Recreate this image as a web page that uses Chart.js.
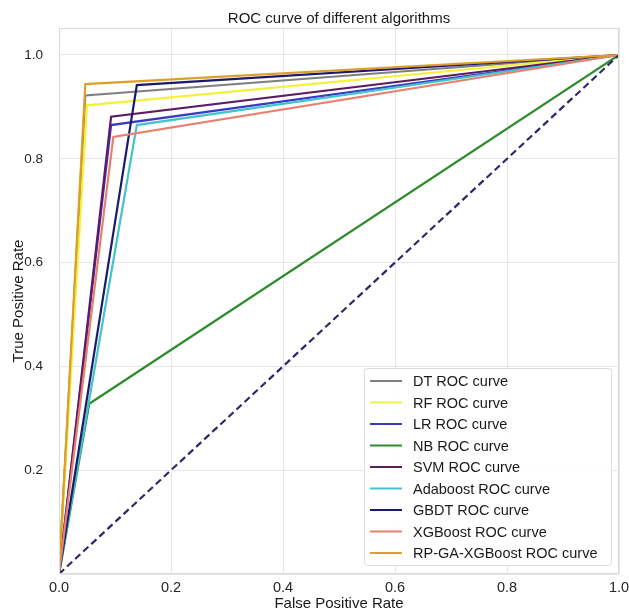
<!DOCTYPE html>
<html>
<head>
<meta charset="utf-8">
<script src="https://cdn.jsdelivr.net/npm/chart.js@4/dist/chart.umd.min.js"></script>
<style>
  html, body { margin: 0; padding: 0; background: #fff; }
  #wrap { width: 629px; height: 613px; }
</style>
</head>
<body>
<div id="wrap"><canvas id="myChart"></canvas></div>
<script>
// curvas ROC: cada una va (0,0) -> (fpr, tpr) -> (1,1)
const algoritmos = ['DT ROC curve', 'RF ROC curve', 'LR ROC curve', 'NB ROC curve', 'SVM ROC curve',
    'Adaboost ROC curve', 'GBDT ROC curve', 'XGBoost ROC curve', 'RP-GA-XGBoost ROC curve'];
const fprPunto = [0.047, 0.050, 0.093, 0.054, 0.093, 0.139, 0.139, 0.097, 0.047];
const tprPunto = [0.922, 0.903, 0.865, 0.328, 0.881, 0.865, 0.942, 0.842, 0.944];
const colores = ['#808080', '#f2f23c', '#3a3ac4', '#2e8b2e', '#5e1c62',
    '#44c4c8', '#1b1b6e', '#e8806e', '#dca028'];
const diagonal = [0, 1];
const xTicks = [0, 0.2, 0.4, 0.6, 0.8, 1.0];
const yTicks = [0, 0.2, 0.4, 0.6, 0.8, 1.0];

const fuente = '"Liberation Sans", Arial, sans-serif';

const datasets = algoritmos.map((nombre, i) => ({
    label: nombre,
    data: [{ x: 0, y: 0 }, { x: fprPunto[i], y: tprPunto[i] }, { x: 1, y: 1 }],
    borderColor: colores[i],
    borderWidth: 2.2,
    pointRadius: 0,
    tension: 0,
    order: algoritmos.length - i + 1
}));
datasets.push({
    label: 'diagonal',
    data: diagonal.map(v => ({ x: v, y: v })),
    borderColor: '#2a2a6a',
    borderWidth: 2.2,
    borderDash: [7, 4],
    pointRadius: 0,
    order: 0
});

// marco del grafico y leyenda dentro del area
const leyendaPlugin = {
    id: 'leyendaPlugin',
    afterDatasetsDraw(chart) {
        const ctx = chart.ctx;
        const a = chart.chartArea;
        ctx.save();
        ctx.strokeStyle = '#d9d9d9';
        ctx.lineWidth = 1;
        ctx.strokeRect(a.left + 0.5, a.top + 0.5, a.right - a.left - 1, a.bottom - a.top - 1);

        const x0 = 364, y0 = 368, w = 247, h = 197;
        ctx.fillStyle = 'rgba(255,255,255,0.9)';
        ctx.strokeStyle = '#dcdcdc';
        ctx.beginPath();
        ctx.roundRect(x0 + 0.5, y0 + 0.5, w, h, 3);
        ctx.fill();
        ctx.stroke();

        ctx.font = '14.5px ' + fuente;
        ctx.textBaseline = 'middle';
        ctx.textAlign = 'left';
        chart.data.datasets.slice(0, algoritmos.length).forEach((ds, i) => {
            const y = 381 + i * 21.5;
            ctx.strokeStyle = ds.borderColor;
            ctx.lineWidth = 2;
            ctx.beginPath();
            ctx.moveTo(370, y);
            ctx.lineTo(402, y);
            ctx.stroke();
            ctx.fillStyle = '#1a1a1a';
            ctx.fillText(ds.label, 413, y + 1);
        });
        ctx.restore();
    }
};

const ctx = document.getElementById('myChart').getContext('2d');
new Chart(ctx, {
    type: 'line',
    data: { datasets: datasets },
    options: {
        responsive: true,
        maintainAspectRatio: false,
        animation: false,
        layout: { padding: { left: 0, right: 0, top: 0, bottom: 0 } },
        plugins: {
            legend: { display: false },
            tooltip: { enabled: false },
            title: {
                display: true,
                text: 'ROC curve of different algorithms',
                fullSize: false,
                color: '#1a1a1a',
                font: { family: fuente, size: 15, weight: 'normal' },
                padding: { top: 10, bottom: 0 }
            }
        },
        scales: {
            x: {
                type: 'linear',
                min: 0,
                max: 1,
                afterBuildTicks: axis => { axis.ticks = xTicks.map(v => ({ value: v })); },
                afterFit: scale => {
                    scale.height = 39;
                    scale.paddingLeft = 0;
                    scale.paddingRight = 10;
                },
                ticks: {
                    color: '#262626',
                    font: { family: fuente, size: 14.5 },
                    padding: 5,
                    maxRotation: 0,
                    callback: v => v.toFixed(1)
                },
                grid: { color: '#e6e6e6', drawTicks: false },
                border: { display: false },
                title: {
                    display: true,
                    text: 'False Positive Rate',
                    color: '#1a1a1a',
                    font: { family: fuente, size: 15 },
                    padding: { top: 0, bottom: 0 }
                }
            },
            y: {
                type: 'linear',
                min: 0,
                max: 1.052,
                afterBuildTicks: axis => { axis.ticks = yTicks.map(v => ({ value: v })); },
                afterFit: scale => { scale.width = 59; },
                ticks: {
                    color: '#262626',
                    font: { family: fuente, size: 13.5 },
                    padding: 16,
                    callback: v => (v === 0 ? '' : v.toFixed(1))
                },
                grid: { color: '#e6e6e6', drawTicks: false },
                border: { display: false },
                title: {
                    display: true,
                    text: 'True Positive Rate',
                    color: '#1a1a1a',
                    font: { family: fuente, size: 15 },
                    padding: { top: 10, bottom: 0 }
                }
            }
        }
    },
    plugins: [leyendaPlugin]
});
</script>
</body>
</html>
